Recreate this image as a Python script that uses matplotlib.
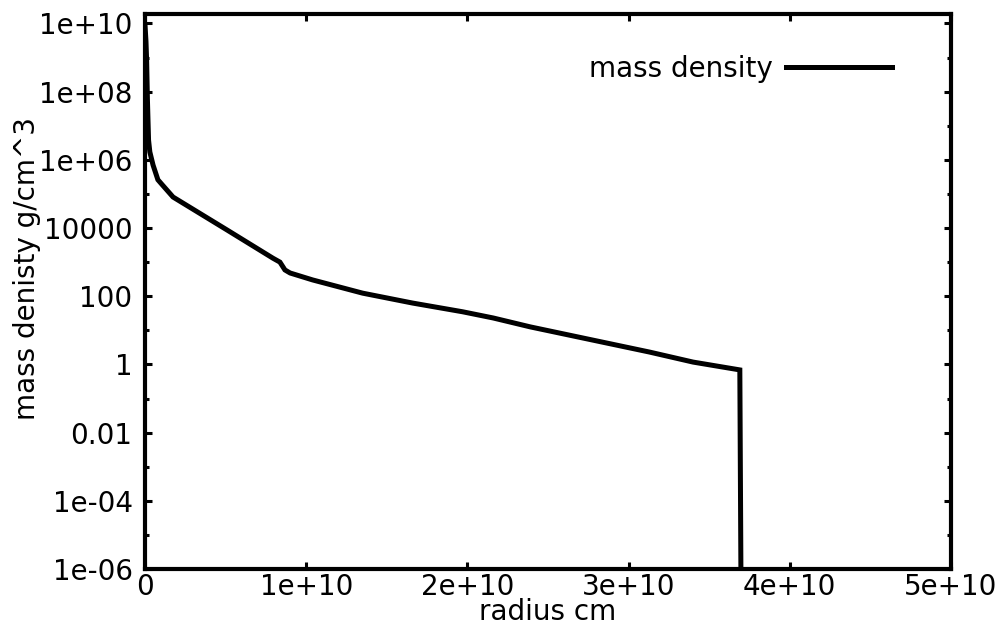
import matplotlib
matplotlib.use("Agg")
import matplotlib.pyplot as plt
from matplotlib.ticker import FixedLocator, NullFormatter

# data
radius_cm = [0.0, 0.006e10, 0.010e10, 0.015e10, 0.022e10, 0.030e10, 0.050e10,
             0.080e10, 0.105e10, 0.174e10, 0.51e10, 0.794e10, 0.837e10,
             0.868e10, 0.90e10, 1.04e10, 1.35e10, 1.66e10, 1.97e10, 2.16e10,
             2.39e10, 2.72e10, 3.13e10, 3.40e10, 3.69e10, 3.70e10, 5.0e10]
mass_density = [9e9, 3e9, 8.5e8, 5.8e7, 3.8e6, 1.7e6, 7.0e5,
                2.6e5, 1.9e5, 8.1e4, 8.7e3, 1.3e3, 1.0e3,
                5.9e2, 4.8e2, 3.0e2, 1.23e2, 63, 35, 23,
                12.6, 5.9, 2.3, 1.17, 0.69, 1e-9, 1e-9]

x_ticks = [0, 1e10, 2e10, 3e10, 4e10, 5e10]
x_tick_labels = ["0", "1e+10", "2e+10", "3e+10", "4e+10", "5e+10"]
y_ticks = [1e10, 1e8, 1e6, 1e4, 1e2, 1, 1e-2, 1e-4, 1e-6]
y_tick_labels = ["1e+10", "1e+08", "1e+06", "10000", "100", "1", "0.01", "1e-04", "1e-06"]
y_minor = [1e9, 1e7, 1e5, 1e3, 10, 0.1, 1e-3, 1e-5]

plt.rcParams['font.family'] = ['DejaVu Sans']
FS = 20

W, H = 1008, 632
fig = plt.figure(figsize=(W / 100, H / 100), dpi=100)
L, R, T, B = 145, 951, 14, 569
ax = fig.add_axes([L / W, (H - B) / H, (R - L) / W, (B - T) / H])

ax.plot(radius_cm, mass_density, color='black', lw=3.6, solid_joinstyle='miter',
        label='mass density')
ax.set_yscale('log')
ax.set_xlim(0, 5e10)
ax.set_ylim(1e-6, 1.89e10)

ax.xaxis.set_major_locator(FixedLocator(x_ticks))
ax.set_xticklabels(x_tick_labels)
ax.yaxis.set_major_locator(FixedLocator(y_ticks))
ax.set_yticklabels(y_tick_labels)
ax.yaxis.set_minor_locator(FixedLocator(y_minor))
ax.yaxis.set_minor_formatter(NullFormatter())
ax.xaxis.set_minor_locator(FixedLocator([]))

ax.tick_params(which='major', direction='in', length=5, width=2.2,
               top=True, right=True, labelsize=FS, colors='black')
ax.tick_params(axis='y', which='major', pad=9)
ax.tick_params(axis='x', which='major', pad=3)
ax.tick_params(which='minor', direction='in', length=3, width=2.2,
               top=True, right=True)
for s in ax.spines.values():
    s.set_linewidth(3)
    s.set_zorder(5)

fig.text(548 / W, 1 - 612 / H, "radius cm", fontsize=FS, ha='center', va='center')
fig.text(27 / W, 1 - 268 / H, "mass denisty g/cm^3", fontsize=FS, ha='center',
         va='center', rotation=90)

leg = ax.legend(loc='center right', bbox_to_anchor=((892 - L) / (R - L), 1 - (69 - T) / (B - T)),
                frameon=False, fontsize=FS, markerfirst=False, handlelength=3.8,
                handletextpad=0.5, borderaxespad=0, borderpad=0)

fig.savefig("out.png", dpi=100, facecolor='white')
